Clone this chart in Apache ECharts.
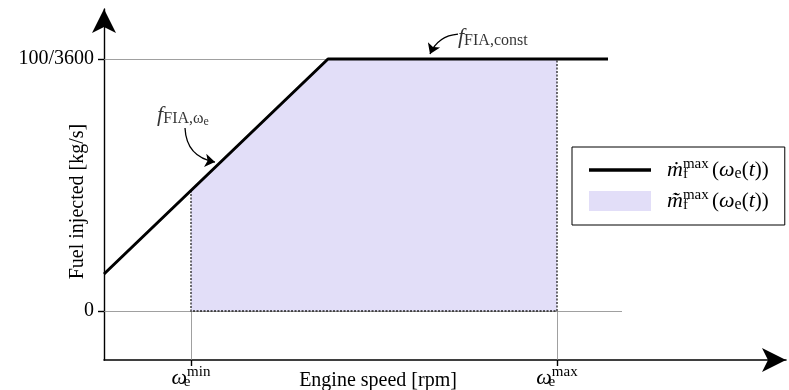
<!DOCTYPE html>
<html><head><meta charset="utf-8">
<script src="https://cdn.jsdelivr.net/npm/echarts@6/dist/echarts.min.js"></script>
<style>html,body{margin:0;padding:0;background:#fff}#c{width:789px;height:390px}</style>
</head><body><div id="c"></div>
<script>
// x in engine-speed units (0 = axis origin), y in units of 100/3600 kg/s
const xTicks = [87, 453];            // omega_e^min, omega_e^max
const xTickSup = ['min', 'max'];
const yTicks = [0, 1];
const yTickLabels = ['0', '100/3600'];
const maxLine = [[0, 0.147], [224, 1], [504, 1]];
const feasibleArea = [[87, 0.478], [224, 1], [453, 1]];
const areaBorder = [[87, 0.478], [87, 0], [453, 0], [453, 1]];
const gridH = [[[0, 0], [518, 0]], [[0, 1], [504, 1]]];
const gridV = [[[87, -0.1944], [87, 0]], [[453, -0.1944], [453, 0]]];
const arrowCoords = [[[81, 0.726], [111, 0.591]], [[354, 1.099], [326, 1.02]]];
const arrowCurve = [-0.4, -0.3];
const annPos = [[79, 0.778], [354, 1.087]];

const FF = 'Liberation Serif';
const rich = {
  n: {fontFamily: FF, fontSize: 21, color: '#000'},
  it: {fontFamily: FF, fontSize: 22, fontStyle: 'italic', color: '#000'},
  sub: {fontFamily: FF, fontSize: 16, color: '#000', padding: [8, 0, 0, 0]},
  sub0: {fontFamily: FF, fontSize: 15, color: '#000', padding: [9, 0, 0, 0], width: 0},
  ssub: {fontFamily: FF, fontSize: 12, color: '#000', padding: [14, 0, 0, 0]},
  sup: {fontFamily: FF, fontSize: 15, color: '#000', padding: [0, 0, 11, 0]},
  gap: {width: 11}
};

const chart = echarts.init(document.getElementById('c'), null, {renderer: 'canvas'});
const mname = '{it|ṁ}{sub0|f}{sup|max} {n|(}{it|ω}{sub|e}{n|(}{it|t}{n|))}';
const aname = '{it|m\u0303\u0307}{sub0|f}{sup|max} {n|(}{it|ω}{sub|e}{n|(}{it|t}{n|))}';

chart.setOption({
  animation: false,
  grid: {left: 104, right: 3, top: 9, bottom: 30, outerBoundsMode: 'none', containLabel: false},
  xAxis: {
    type: 'value', min: 0, max: 682,
    axisLine: {onZero: false, symbol: ['none', 'arrow'], symbolSize: [18, 24], lineStyle: {color: '#000', width: 1.6}},
    axisTick: {customValues: xTicks, length: 6, lineStyle: {color: '#000', width: 1.4}},
    axisLabel: {customValues: xTicks, margin: 5, rich: rich,
      formatter: v => '{it|ω}{sub0|e}{sup|' + xTickSup[xTicks.indexOf(v)] + '}'},
    splitLine: {show: false},
    name: 'Engine speed [rpm]', nameLocation: 'middle', nameGap: 11, nameMoveOverlap: false,
    nameTextStyle: {fontFamily: FF, fontSize: 20, color: '#000', padding: [0, 134, 0, 0]}
  },
  yAxis: {
    type: 'value', min: -0.1944, max: 1.1984,
    axisLine: {onZero: false, symbol: ['none', 'arrow'], symbolSize: [18, 24], lineStyle: {color: '#000', width: 1.4}},
    axisTick: {customValues: yTicks, length: 6, lineStyle: {color: '#000', width: 1.4}},
    axisLabel: {customValues: yTicks, margin: 10, fontFamily: FF, fontSize: 20, color: '#000',
      formatter: v => yTickLabels[yTicks.indexOf(v)]},
    splitLine: {show: false},
    name: 'Fuel injected [kg/s]', nameLocation: 'middle', nameGap: 16, nameMoveOverlap: false,
    nameTextStyle: {fontFamily: FF, fontSize: 20, color: '#000', padding: [0, 34, 0, 0]}
  },
  legend: {
    orient: 'vertical', left: 572, top: 147, padding: [10, 16, 12, 17], itemGap: 6,
    itemWidth: 62, itemHeight: 20, borderColor: '#000', borderWidth: 1, symbolKeepAspect: true,
    data: [{name: 'max', icon: 'path://M0,0 L62,0 L62,3.4 L0,3.4 Z'}, {name: 'area', icon: 'rect'}],
    formatter: n => '{gap|}' + (n === 'max' ? mname : aname),
    textStyle: {rich: rich, lineHeight: 24}
  },
  series: [
    {type: 'lines', coordinateSystem: 'cartesian2d', silent: true, z: 1,
      lineStyle: {color: '#888', width: 0.8, opacity: 1},
      data: gridH.concat(gridV).map(c => ({coords: c}))},
    {name: 'area', type: 'line', data: feasibleArea, symbol: 'none', z: 2,
      lineStyle: {width: 0}, itemStyle: {color: '#e2def8'},
      areaStyle: {color: '#e2def8', opacity: 1}},
    {type: 'lines', coordinateSystem: 'cartesian2d', polyline: true, silent: true, z: 3,
      lineStyle: {color: '#222', width: 1.3, type: [2, 1.5], opacity: 1},
      data: [{coords: areaBorder}]},
    {name: 'max', type: 'line', data: maxLine, symbol: 'none', showSymbol: false, z: 5,
      lineStyle: {color: '#000', width: 3}, itemStyle: {color: '#000'}},
    {type: 'lines', coordinateSystem: 'cartesian2d', silent: true, z: 6,
      symbol: ['none', 'arrow'], symbolSize: 10,
      lineStyle: {color: '#000', width: 1.3, opacity: 1},
      data: arrowCoords.map((c, i) => ({coords: c, lineStyle: {curveness: arrowCurve[i]}}))},
    {type: 'scatter', symbolSize: 0, silent: true, z: 7,
      data: [
        {value: annPos[0], label: {position: 'inside', align: 'center',
          formatter: '{it|f}{sub|FIA,ω}{ssub|e}'}},
        {value: annPos[1], label: {position: 'right', distance: 0,
          formatter: '{it|f}{sub|FIA,const}'}}
      ],
      label: {show: true, rich: rich}}
  ]
});
</script></body></html>
